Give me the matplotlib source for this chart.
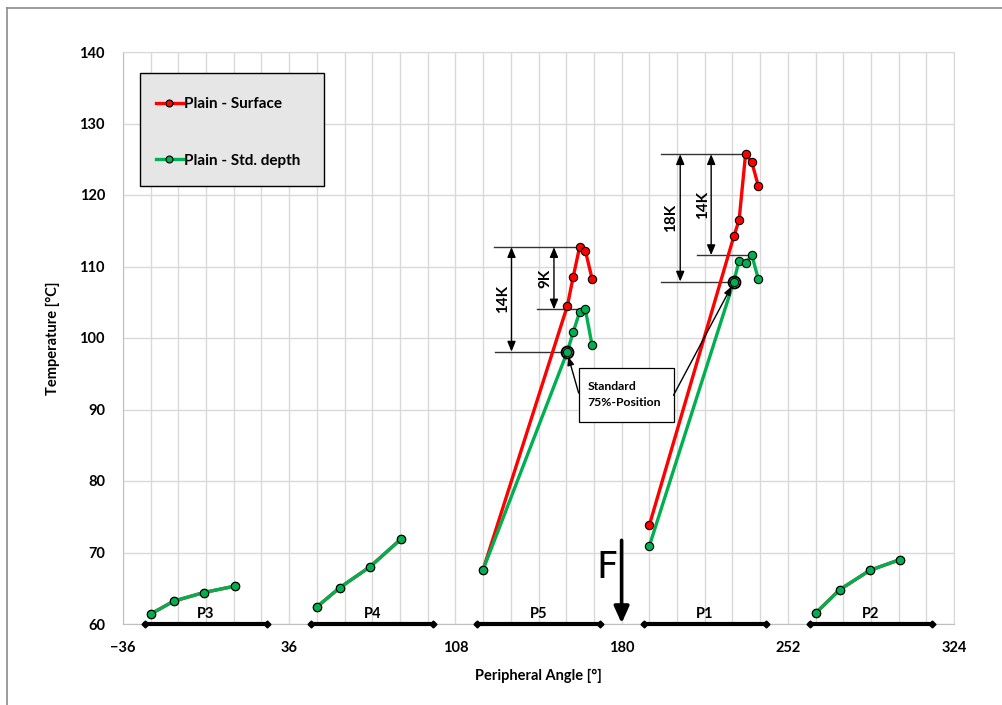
import numpy as np
import matplotlib
matplotlib.use("Agg")
import matplotlib.pyplot as plt
from matplotlib.patches import Rectangle
from matplotlib.lines import Line2D

plt.rcParams['font.family'] = ['Lato', 'DejaVu Sans']

# ---- data ----
pad_names = ["P3", "P4", "P5", "P1", "P2"]
pad_start = [-26.5, 45.5, 117.5, 189.5, 261.5]
pad_end = [26.5, 98.5, 170.5, 242.5, 314.5]

# angles per pad (sensor positions)
ang_p3 = [-24, -14, -1, 12.5]
ang_p4 = [48, 58, 71, 84.5]
ang_p5 = [120, 156.5, 159, 161.8, 164.3, 167.2]
ang_p1 = [192, 228.6, 230.9, 233.7, 236.4, 239.2]
ang_p2 = [264, 274.5, 287.5, 300.5]

surf_p3 = [61.4, 63.2, 64.4, 65.3]
surf_p4 = [62.4, 65.1, 68.0, 71.9]
surf_p5 = [67.6, 104.5, 108.5, 112.7, 112.2, 108.3]
surf_p1 = [73.8, 114.2, 116.5, 125.7, 124.6, 121.3]
surf_p2 = [61.5, 64.8, 67.5, 69.0]

std_p3 = [61.4, 63.2, 64.4, 65.3]
std_p4 = [62.4, 65.1, 68.0, 71.9]
std_p5 = [67.6, 98.1, 100.8, 103.6, 104.0, 99.0]
std_p1 = [70.9, 107.9, 110.8, 110.5, 111.6, 108.3]
std_p2 = [61.5, 64.8, 67.5, 69.0]

std75_angle = [156.5, 228.6]
std75_temp = [98.1, 107.9]

x_ticks = [-36, 36, 108, 180, 252, 324]
y_ticks = [60, 70, 80, 90, 100, 110, 120, 130, 140]

RED = "#ff0000"
GREEN = "#00b050"
FS = 10.5

fig = plt.figure(figsize=(10.03, 7.05), dpi=100)
ax = fig.add_axes([123/1003, 1-624/705, (954-123)/1003, (624-52)/705])

ax.set_xlim(-36, 324)
ax.set_ylim(60, 140)
ax.set_xticks(x_ticks)
ax.set_xticks(np.arange(-36, 325, 12), minor=True)
ax.set_yticks(y_ticks)
ax.grid(True, which='both', axis='x', color='#d9d9d9', lw=1)
ax.grid(True, which='major', axis='y', color='#d9d9d9', lw=1)
ax.tick_params(which='both', length=0)
ax.tick_params(axis='y', pad=13)
ax.tick_params(axis='x', pad=12)
for s in ax.spines.values():
    s.set_color('#d9d9d9')
ax.spines['left'].set_color('#bfbfbf')
ax.spines['bottom'].set_color('#bfbfbf')
ax.set_axisbelow(True)
for lab in ax.get_xticklabels() + ax.get_yticklabels():
    lab.set_fontweight('bold')
    lab.set_fontsize(FS)

ax.set_xlabel("Peripheral Angle [°]", fontweight='bold', fontsize=FS, labelpad=10)
ax.set_ylabel("Temperature [°C]", fontweight='bold', fontsize=FS, labelpad=14)

mk = dict(marker='o', ms=6, mec='black', mew=0.8, lw=2.4, solid_capstyle='round')
surf = [(ang_p3, surf_p3), (ang_p4, surf_p4), (ang_p5, surf_p5), (ang_p1, surf_p1), (ang_p2, surf_p2)]
std = [(ang_p3, std_p3), (ang_p4, std_p4), (ang_p5, std_p5), (ang_p1, std_p1), (ang_p2, std_p2)]
for a, t in surf:
    ax.plot(a, t, color=RED, mfc=RED, zorder=3, **mk)
for a, t in std:
    ax.plot(a, t, color=GREEN, mfc=GREEN, zorder=4, **mk)
ax.plot(std75_angle, std75_temp, ls='none', marker='o', ms=8.5, mfc='none', mec='black', mew=1.4, zorder=5)

# pads
for n, a0, a1 in zip(pad_names, pad_start, pad_end):
    ax.plot([a0, a1], [60, 60], color='black', lw=3, marker='D', ms=3.5, clip_on=False, zorder=6)
    ax.text((a0 + a1) / 2, 60.35, n, ha='center', va='bottom', fontweight='bold', fontsize=FS)

# F arrow
ax.annotate("", xy=(180, 60.1), xytext=(180, 71.7),
            arrowprops=dict(arrowstyle='-|>,head_width=0.45,head_length=1.0', color='black', lw=2.6, shrinkA=0, shrinkB=0))
ax.text(173.6, 67.8, "F", ha='center', va='center', fontsize=27, family='DejaVu Sans')

# dimension annotations
def hline(y, x0, x1):
    ax.plot([x0, x1], [y, y], color='#333333', lw=1.0, zorder=2)

def dim(x, y0, y1, label, lx):
    ax.annotate("", xy=(x, y0), xytext=(x, y1),
                arrowprops=dict(arrowstyle='<|-|>,head_width=0.25,head_length=0.6', color='black', lw=1.0, shrinkA=0, shrinkB=0))
    ax.text(lx, (y0 + y1) / 2, label, rotation=90, ha='center', va='center', fontweight='bold', fontsize=11)

# P5
hline(112.7, 124.6, 161.8)
hline(104.0, 143.2, 164.3)
hline(98.1, 125.0, 156.5)
dim(132.3, 98.1, 112.7, "14K", 128.6)
dim(150.7, 104.0, 112.7, "9K", 147.0)
# P1
hline(125.7, 196.9, 233.7)
hline(111.6, 212.8, 236.4)
hline(107.9, 196.9, 228.6)
dim(205.4, 107.9, 125.7, "18K", 201.6)
dim(218.8, 111.6, 125.7, "14K", 215.2)

# Standard box
ax.add_patch(Rectangle((161.4, 88.3), 41.1, 7.45, facecolor='white', edgecolor='black', lw=0.9, zorder=6))
ax.text(165.3, 92.1, "Standard\n75%-Position", ha='left', va='center', fontweight='bold', fontsize=8.8,
        linespacing=1.45, zorder=7)
ax.annotate("", xy=(156.9, 97.4), xytext=(161.4, 92.3),
            arrowprops=dict(arrowstyle='-|>,head_width=0.2,head_length=0.5', color='black', lw=1.0, shrinkA=0, shrinkB=0), zorder=7)
ax.annotate("", xy=(227.6, 107.2), xytext=(202.5, 92.0),
            arrowprops=dict(arrowstyle='-|>,head_width=0.2,head_length=0.5', color='black', lw=1.0, shrinkA=0, shrinkB=0), zorder=7)

# legend box + entries
ax.add_patch(Rectangle((0.0205, 0.766), 0.2215, 0.197, transform=ax.transAxes, facecolor='#e6e6e6',
                       edgecolor='black', lw=1.0, zorder=6))
handles = [Line2D([], [], color=RED, mfc=RED, marker='o', ms=5, mec='black', mew=0.8, lw=2.4),
           Line2D([], [], color=GREEN, mfc=GREEN, marker='o', ms=5, mec='black', mew=0.8, lw=2.4)]
leg = ax.legend(handles, ["Plain - Surface", "Plain - Std. depth"], loc='upper left',
                bbox_to_anchor=(0.0397, 0.9215), frameon=False, handlelength=1.75, handletextpad=0.1,
                labelspacing=2.8, borderpad=0, borderaxespad=0,
                prop=dict(weight='bold', size=11))
leg.set_zorder(7)

# outer chart border (partial, as in reference)
fig.add_artist(Line2D([7/1003, 7/1003], [0, 1-8/705], color='#8c8c8c', lw=1.2))
fig.add_artist(Line2D([7/1003, 1], [1-8/705, 1-8/705], color='#8c8c8c', lw=1.2))

fig.savefig("out.png", dpi=100)
